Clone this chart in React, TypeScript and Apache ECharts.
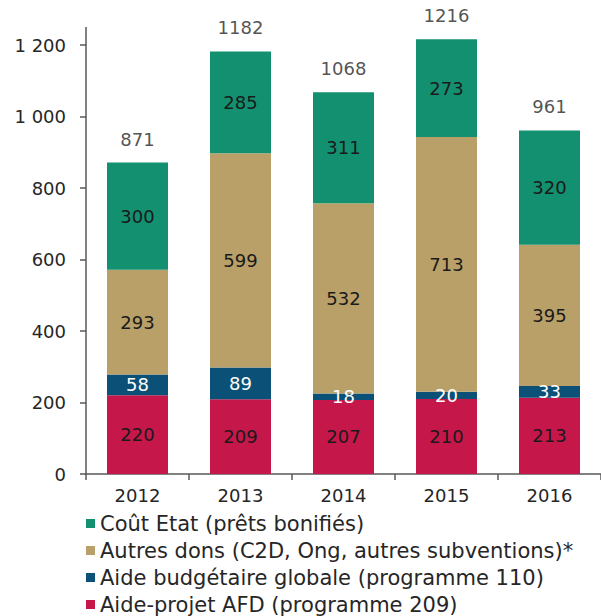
import React, { useEffect, useRef } from "react";
import * as echarts from "echarts";

const years = ["2012", "2013", "2014", "2015", "2016"];
const aideProjetAFD = [220, 209, 207, 210, 213];
const aideBudgetaire = [58, 89, 18, 20, 33];
const autresDons = [293, 599, 532, 713, 395];
const coutEtat = [300, 285, 311, 273, 320];
const totals = [871, 1182, 1068, 1216, 961];

const nameCout = "Coût Etat (prêts bonifiés)";
const nameAutres = "Autres dons (C2D, Ong, autres subventions)*";
const nameABG = "Aide budgétaire globale (programme 110)";
const nameAFD = "Aide-projet AFD (programme 209)";

const FONT = "DejaVu Sans";

export default function App() {
  const ref = useRef<HTMLDivElement>(null);
  useEffect(() => {
    if (!ref.current) return;
    const chart = echarts.init(ref.current, undefined, { renderer: "svg" });
    const inside = (color: string) => ({
      show: true,
      position: "inside",
      color,
      fontFamily: FONT,
      fontSize: 18,
    });
    chart.setOption({
      animation: false,
      textStyle: { fontFamily: FONT },
      grid: { left: 86, top: 45, bottom: 142, right: -5, containLabel: false },
      legend: {
        orient: "vertical",
        left: 86,
        top: 513,
        height: 103,
        padding: 0,
        icon: "rect",
        itemWidth: 9,
        itemHeight: 9,
        itemGap: 6,
        data: [nameCout, nameAutres, nameABG, nameAFD],
        textStyle: { fontFamily: FONT, fontSize: 21, color: "#262626", lineHeight: 21 },
      },
      xAxis: {
        type: "category",
        data: years,
        axisLine: { lineStyle: { color: "#595959", width: 1.5 } },
        axisTick: { show: true, length: 6, lineStyle: { color: "#595959", width: 1.5 } },
        axisLabel: { fontFamily: FONT, fontSize: 18, color: "#262626", margin: 12 },
      },
      yAxis: {
        type: "value",
        min: 0,
        max: 1200,
        interval: 200,
        splitLine: { show: false },
        axisLine: { show: true, lineStyle: { color: "#595959", width: 1.5 } },
        axisTick: { show: true, length: 6, lineStyle: { color: "#595959", width: 1.5 } },
        axisLabel: {
          fontFamily: FONT,
          fontSize: 18,
          color: "#262626",
          margin: 20,
          formatter: (v: number) => String(v).replace(/\B(?=(\d{3})+(?!\d))/g, " "),
        },
      },
      graphic: [
        {
          type: "line",
          shape: { x1: 86, y1: 27, x2: 86, y2: 45 },
          style: { stroke: "#595959", lineWidth: 1.5 },
        },
      ],
      series: [
        {
          name: nameAFD,
          type: "bar",
          stack: "t",
          barWidth: 61,
          clip: false,
          data: aideProjetAFD,
          itemStyle: { color: "#c6174a" },
          label: inside("#1a1a1a"),
        },
        {
          name: nameABG,
          type: "bar",
          stack: "t",
          clip: false,
          data: aideBudgetaire,
          itemStyle: { color: "#0b5077" },
          label: inside("#ffffff"),
        },
        {
          name: nameAutres,
          type: "bar",
          stack: "t",
          clip: false,
          data: autresDons,
          itemStyle: { color: "#b9a068" },
          label: inside("#1a1a1a"),
        },
        {
          name: nameCout,
          type: "bar",
          stack: "t",
          clip: false,
          data: coutEtat,
          itemStyle: { color: "#12906f" },
          label: inside("#1a1a1a"),
        },
        {
          name: "Total",
          type: "scatter",
          data: totals,
          symbolSize: 1,
          clip: false,
          itemStyle: { color: "rgba(0,0,0,0)" },
          label: {
            show: true,
            position: "top",
            distance: 14,
            color: "#262626",
            fontFamily: FONT,
            fontSize: 18,
          },
          silent: true,
        },
      ],
    });
    return () => chart.dispose();
  }, []);
  return (
    <div
      ref={ref}
      style={{ position: "absolute", left: 0, top: 0, width: 601, height: 616 }}
    />
  );
}
